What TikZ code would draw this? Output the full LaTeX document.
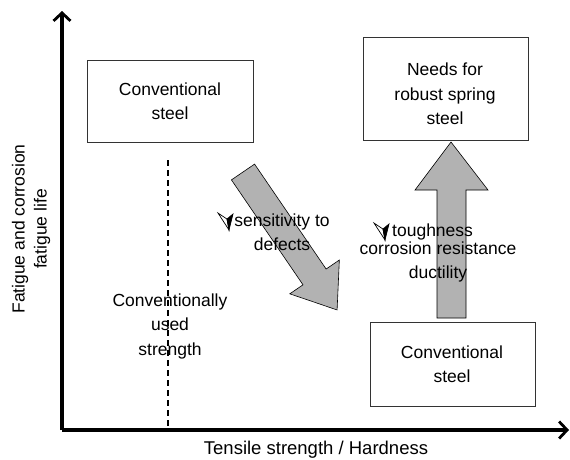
\documentclass[tikz,border=0pt]{standalone}
\usepackage{fontspec}
\setmainfont{Liberation Sans}
\usetikzlibrary{arrows.meta}
\begin{document}
\begin{tikzpicture}[x=1pt,y=-1pt,
  every node/.style={font=\fontsize{17.5}{24.5}\selectfont, inner sep=0pt, align=center},
  box/.style={draw=black!80, line width=0.8pt, minimum width=0pt},
  axis/.style={line width=3.4pt, -{Straight Barb[length=8pt,width=17pt,line width=2.8pt]}},
  bigarrow/.style={fill=black!30, draw=black, line width=0.6pt, line join=miter},
  checkw/.style={fill=white, draw=black, line width=0.7pt, line join=miter},
  checkb/.style={fill=black, draw=black, line width=0.7pt, line join=miter}]
\useasboundingbox (0,0) rectangle (570,459);

% axes
\coordinate (O) at (62,430);
\coordinate (Ytop) at (62,11);
\coordinate (Xend) at (569,430);
\draw[axis] (O) -- (Ytop);
\draw[axis] (O) -- (Xend);

\node[font=\fontsize{17.5}{22}\selectfont, rotate=90] (ylab) at (31,229) {Fatigue and corrosion\\fatigue life};
\node[font=\fontsize{18.5}{22}\selectfont] (xlab) at (316,450) {Tensile strength / Hardness};

% boxes
\draw[box] (87,60) rectangle (253,142);
\node (b1) at (170,101) {Conventional\\steel};
\draw[box] (363,37) rectangle (528,140);
\node (b2) at (445,94) {Needs for\\robust spring\\steel};
\draw[box] (370,322) rectangle (535,406);
\node (b3) at (452,364) {Conventional\\steel};

% dashed line
\coordinate (d1) at (168,160);
\coordinate (d2) at (168,430);
\draw[dashed, dash pattern=on 6pt off 4pt, line width=1.4pt] (d1) -- (d2);
\node (cus) at (170,326) {Conventionally\\used\\strength};

% diagonal arrow
\begin{scope}[shift={(243,172)}, rotate=-55.7]
  \draw[bigarrow] (0,-14) -- (127,-14) -- (127,-30) -- (167,0) -- (127,30) -- (127,14) -- (0,14) -- cycle;
\end{scope}

% vertical arrow
\draw[bigarrow] (437,318) -- (437,190) -- (415,190) -- (451,142) -- (488,190) -- (466,190) -- (466,318) -- cycle;

% check symbols
\begin{scope}[shift={(218,213)}]
  \draw[checkw] (0,0) -- (9,6) -- (11,17) -- cycle;
  \draw[checkb] (9,6) -- (15,1) -- (11,17) -- cycle;
\end{scope}
\begin{scope}[shift={(374,223)}]
  \draw[checkw] (0,0) -- (9,6) -- (11,17) -- cycle;
  \draw[checkb] (9,6) -- (15,1) -- (11,17) -- cycle;
\end{scope}

\node (sens) at (282,232) {sensitivity to\\defects};
\node[anchor=west] (tough) at (392,232) {toughness};
\node (corr) at (438,262) {corrosion resistance\\ductility};
\end{tikzpicture}
\end{document}
